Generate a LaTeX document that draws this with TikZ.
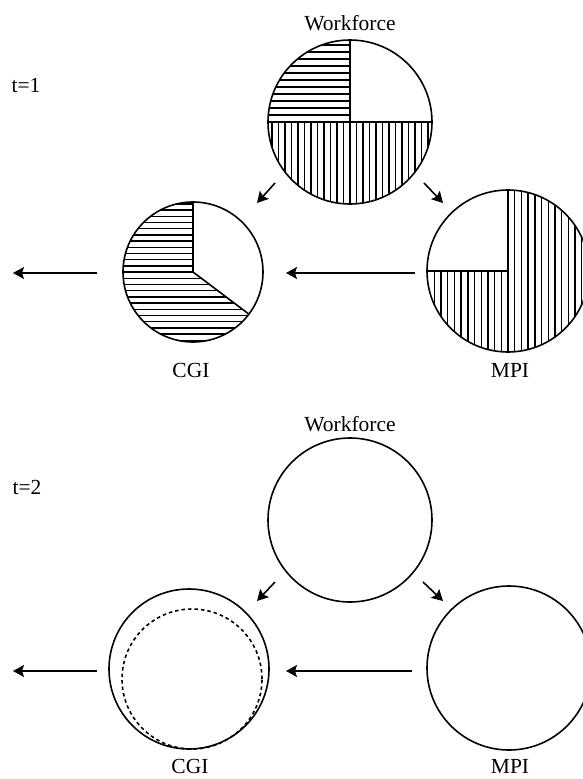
\documentclass[tikz,border=0pt]{standalone}
\usepackage{fontspec}
\setmainfont{Liberation Serif}
\usetikzlibrary{arrows.meta,calc}
\begin{document}
\begin{tikzpicture}[x=1pt,y=-1pt,
  disk/.style={circle,draw,line width=1.6pt,inner sep=0pt,outer sep=0pt},
  hatch/.style={line width=1.4pt},
  divider/.style={line width=1.6pt},
  dashcircle/.style={circle,draw,line width=1.6pt,dash pattern=on 3.5pt off 3pt,inner sep=0pt,outer sep=0pt},
  arr/.style={line width=1.6pt,-{Stealth[length=11pt,width=12pt,inset=2pt]}},
  lbl/.style={font=\fontsize{21.5}{24}\selectfont,anchor=base,inner sep=0pt}]
\useasboundingbox (0,0) rectangle (583,779);

% ---------- t = 1 ----------
\node[lbl] (t1) at (26,92) {t=1};
\node[lbl] (lw1) at (350,30) {Workforce};
\node[disk,minimum size=164pt] (w1) at (350,122) {};
\node[disk,minimum size=140pt] (c1) at (193,272) {};
\node[disk,minimum size=162pt] (m1) at (508,271) {};
\node[lbl] (lc1) at (191,377) {CGI};
\node[lbl] (lm1) at (510,377) {MPI};

% workforce hatching
\begin{scope}
  \clip (w1.center) -- (w1.west) arc[start angle=180,end angle=90,radius=82pt] -- cycle;
  \foreach \k in {1,...,12} \draw[hatch] (260,{122-7*\k}) -- (360,{122-7*\k});
\end{scope}
\begin{scope}
  \clip (w1.west) arc[start angle=180,end angle=360,radius=82pt] -- cycle;
  \foreach \k in {-13,...,13} \draw[hatch] ({350+6.5*\k},115) -- ({350+6.5*\k},210);
\end{scope}
\draw[divider] (w1.west) -- (w1.east);
\draw[divider] (w1.north) -- (w1.center);

% CGI hatching
\begin{scope}
  \clip (c1.center) -- (c1.north) arc[start angle=90,end angle=323,radius=70pt] -- cycle;
  \foreach \k in {-12,...,12} \draw[hatch] (115,{272+6.2*\k}) -- (270,{272+6.2*\k});
\end{scope}
\draw[divider] (c1.north) -- (c1.center) -- (c1.323);

% MPI hatching
\begin{scope}
  \clip (m1.center) -- (m1.west) arc[start angle=180,end angle=450,radius=81pt] -- cycle;
  \foreach \k in {-13,...,13} \draw[hatch] ({508+6.7*\k},185) -- ({508+6.7*\k},360);
\end{scope}
\draw[divider] (m1.west) -- (m1.center) -- (m1.north);

% arrows t=1
\coordinate (a1s) at (275,183);
\coordinate (a1e) at (257,203);
\coordinate (b1s) at (424,183);
\coordinate (b1e) at (443,203);
\coordinate (h1s) at (415,273);
\coordinate (h1e) at (286,273);
\coordinate (o1s) at (97,273);
\coordinate (o1e) at (13,273);
\draw[arr] (a1s) -- (a1e);
\draw[arr] (b1s) -- (b1e);
\draw[arr] (h1s) -- (h1e);
\draw[arr] (o1s) -- (o1e);

% ---------- t = 2 ----------
\node[lbl] (t2) at (27,494) {t=2};
\node[lbl] (lw2) at (350,431) {Workforce};
\node[disk,minimum size=164pt] (w2) at (350,520) {};
\node[disk,minimum size=160pt] (c2) at (189,669) {};
\node[dashcircle,minimum size=140pt] (d2) at (192,679) {};
\node[disk,minimum size=164pt] (m2) at (509,668) {};
\node[lbl] (lc2) at (190,773) {CGI};
\node[lbl] (lm2) at (510,773) {MPI};

\coordinate (a2s) at (275,582);
\coordinate (a2e) at (257,601);
\coordinate (b2s) at (423,582);
\coordinate (b2e) at (443,601);
\coordinate (h2s) at (412,671);
\coordinate (h2e) at (286,671);
\coordinate (o2s) at (97,671);
\coordinate (o2e) at (13,671);
\draw[arr] (a2s) -- (a2e);
\draw[arr] (b2s) -- (b2e);
\draw[arr] (h2s) -- (h2e);
\draw[arr] (o2s) -- (o2e);
\end{tikzpicture}
\end{document}
